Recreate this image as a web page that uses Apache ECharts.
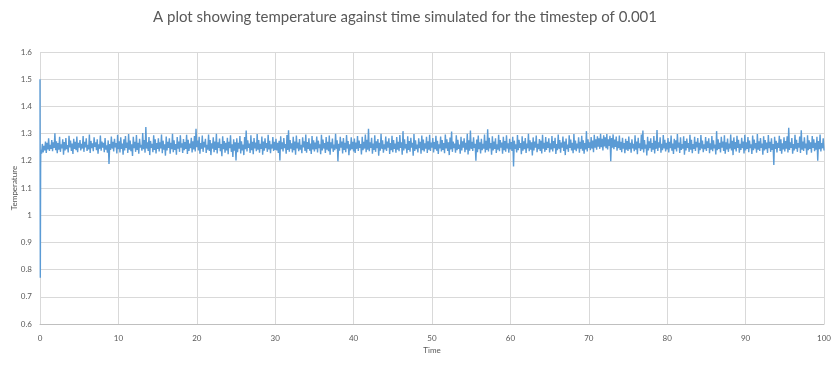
<!DOCTYPE html>
<html>
<head>
<meta charset="utf-8">
<script src="https://cdn.jsdelivr.net/npm/echarts@6/dist/echarts.min.js"></script>
<style>
html,body{margin:0;padding:0;background:#fff;}
#chart{width:835px;height:366px;}
</style>
</head>
<body>
<div id="chart"></div>
<script>
// Title and axis texts
const titleText = "A plot showing temperature against time simulated for the timestep of 0.001";
const xAxisName = "Time";
const yAxisName = "Temperature";

// Initial transient (time, temperature)
const transientTimes = [0, 0.04, 0.08];
const transientTemps = [1.5, 0.77, 1.18];

// Steady-state samples, every 0.1 time units starting at t = 0.1
const sampleStart = 0.1;
const sampleStep = 0.1;
const temps = [
1.241,1.226,1.262,1.231,1.255,1.238,1.271,1.229,1.266,1.242,1.283,1.236,1.259,1.244,1.276,1.235,1.268,1.247,1.301,1.239,
1.272,1.228,1.265,1.241,1.288,1.233,1.261,1.246,1.279,1.222,1.269,1.238,1.284,1.243,1.258,1.231,1.292,1.249,1.274,1.236,
1.263,1.225,1.281,1.244,1.270,1.239,1.289,1.232,1.266,1.248,

1.276,1.238,1.262,1.245,1.291,1.233,1.270,1.249,1.283,1.236,1.259,1.242,1.297,1.229,1.273,1.247,1.264,1.235,1.286,1.251,
1.268,1.239,1.279,1.226,1.261,1.244,1.293,1.237,1.271,1.248,1.266,1.232,1.284,1.241,1.257,1.230,1.275,1.188,1.262,1.240,
1.289,1.245,1.270,1.234,1.281,1.249,1.265,1.227,1.296,1.243,

1.272,1.231,1.286,1.244,1.263,1.222,1.279,1.238,1.291,1.247,1.267,1.229,1.298,1.241,1.274,1.235,1.261,1.218,1.288,1.246,
1.270,1.233,1.295,1.240,1.266,1.226,1.281,1.249,1.259,1.237,1.302,1.243,1.276,1.230,1.324,1.245,1.268,1.236,1.287,1.221,
1.273,1.248,1.262,1.232,1.294,1.240,1.279,1.227,1.265,1.244,

1.283,1.234,1.268,1.246,1.297,1.228,1.274,1.241,1.261,1.219,1.289,1.238,1.270,1.247,1.283,1.226,1.266,1.243,1.299,1.232,
1.275,1.240,1.262,1.222,1.287,1.245,1.271,1.233,1.294,1.248,1.264,1.229,1.280,1.239,1.269,1.244,1.296,1.225,1.277,1.236,
1.263,1.247,1.285,1.231,1.272,1.242,1.291,1.234,1.318,1.250,

1.274,1.238,1.288,1.226,1.265,1.244,1.293,1.233,1.270,1.249,1.281,1.229,1.259,1.241,1.297,1.236,1.276,1.221,1.264,1.245,
1.286,1.232,1.271,1.240,1.299,1.227,1.268,1.247,1.282,1.235,1.262,1.217,1.290,1.243,1.273,1.230,1.266,1.238,1.285,1.224,
1.270,1.246,1.294,1.233,1.261,1.214,1.279,1.237,1.268,1.201,

1.283,1.232,1.266,1.245,1.291,1.227,1.272,1.238,1.260,1.221,1.287,1.243,1.311,1.234,1.275,1.248,1.263,1.229,1.294,1.239,
1.270,1.224,1.284,1.246,1.267,1.235,1.298,1.241,1.276,1.230,1.262,1.244,1.289,1.222,1.271,1.237,1.283,1.247,1.265,1.233,
1.296,1.242,1.274,1.228,1.261,1.245,1.287,1.236,1.270,1.240,

1.281,1.238,1.266,1.229,1.274,1.201,1.290,1.243,1.268,1.234,1.284,1.247,1.262,1.226,1.295,1.240,1.312,1.233,1.276,1.245,
1.264,1.231,1.288,1.239,1.271,1.222,1.293,1.246,1.267,1.235,1.280,1.241,1.259,1.228,1.286,1.249,1.272,1.236,1.297,1.230,
1.269,1.244,1.283,1.237,1.263,1.225,1.291,1.242,1.275,1.234,

1.267,1.243,1.289,1.231,1.274,1.247,1.261,1.224,1.296,1.238,1.278,1.245,1.265,1.229,1.287,1.241,1.270,1.235,1.293,1.222,
1.268,1.246,1.282,1.233,1.260,1.239,1.299,1.244,1.275,1.198,1.263,1.237,1.288,1.248,1.271,1.227,1.284,1.240,1.266,1.232,
1.295,1.245,1.273,1.221,1.261,1.238,1.286,1.243,1.270,1.234,

1.282,1.229,1.267,1.244,1.291,1.236,1.274,1.248,1.262,1.223,1.288,1.239,1.270,1.245,1.297,1.232,1.277,1.241,1.318,1.235,
1.268,1.247,1.285,1.226,1.263,1.240,1.294,1.233,1.272,1.246,1.280,1.219,1.266,1.237,1.299,1.244,1.275,1.230,1.261,1.242,
1.289,1.236,1.271,1.248,1.283,1.225,1.265,1.239,1.292,1.232,

1.276,1.244,1.263,1.230,1.287,1.241,1.270,1.235,1.295,1.247,1.268,1.222,1.309,1.238,1.279,1.245,1.262,1.228,1.290,1.240,
1.273,1.233,1.285,1.248,1.266,1.219,1.298,1.236,1.275,1.243,1.260,1.231,1.283,1.246,1.270,1.226,1.293,1.239,1.278,1.234,
1.264,1.245,1.288,1.229,1.272,1.241,1.296,1.236,1.267,1.248,

1.284,1.231,1.269,1.243,1.292,1.237,1.274,1.225,1.261,1.246,1.289,1.234,1.276,1.240,1.265,1.228,1.297,1.245,1.279,1.236,
1.268,1.221,1.286,1.242,1.308,1.233,1.271,1.247,1.263,1.230,1.294,1.239,1.277,1.244,1.260,1.226,1.288,1.238,1.272,1.248,
1.283,1.232,1.266,1.241,1.299,1.223,1.275,1.237,1.311,1.244,

1.270,1.236,1.286,1.247,1.263,1.200,1.278,1.232,1.293,1.243,1.268,1.227,1.281,1.239,1.262,1.245,1.297,1.231,1.274,1.240,
1.316,1.234,1.285,1.246,1.265,1.222,1.290,1.238,1.271,1.244,1.283,1.229,1.261,1.241,1.296,1.235,1.276,1.248,1.267,1.226,
1.288,1.239,1.273,1.233,1.294,1.245,1.264,1.230,1.281,1.242,

1.269,1.236,1.288,1.179,1.274,1.244,1.261,1.231,1.295,1.239,1.277,1.247,1.265,1.224,1.290,1.237,1.272,1.243,1.284,1.229,
1.263,1.246,1.299,1.235,1.275,1.241,1.268,1.220,1.286,1.238,1.271,1.248,1.293,1.232,1.262,1.243,1.280,1.236,1.274,1.227,
1.296,1.245,1.266,1.233,1.287,1.240,1.270,1.247,1.283,1.231,

1.264,1.242,1.291,1.234,1.273,1.246,1.285,1.225,1.262,1.239,1.297,1.244,1.276,1.230,1.267,1.248,1.289,1.236,1.271,1.221,
1.282,1.243,1.260,1.233,1.294,1.247,1.278,1.238,1.266,1.228,1.298,1.241,1.274,1.235,1.263,1.246,1.286,1.230,1.270,1.244,
1.292,1.237,1.275,1.226,1.265,1.242,1.309,1.234,1.279,1.247,

1.268,1.239,1.287,1.245,1.274,1.232,1.296,1.248,1.279,1.241,1.290,1.252,1.283,1.244,1.299,1.250,1.281,1.238,1.294,1.253,
1.286,1.246,1.298,1.242,1.279,1.255,1.292,1.198,1.284,1.248,1.297,1.243,1.278,1.251,1.289,1.237,1.272,1.246,1.293,1.240,
1.270,1.232,1.285,1.245,1.265,1.228,1.281,1.241,1.273,1.236,

1.289,1.243,1.266,1.230,1.279,1.246,1.262,1.235,1.294,1.241,1.271,1.224,1.285,1.247,1.264,1.236,1.297,1.242,1.311,1.231,
1.276,1.245,1.260,1.220,1.288,1.238,1.272,1.246,1.283,1.233,1.265,1.241,1.291,1.227,1.274,1.244,1.313,1.236,1.268,1.248,
1.286,1.230,1.262,1.239,1.295,1.245,1.277,1.234,1.266,1.242,

1.284,1.231,1.270,1.246,1.293,1.237,1.263,1.225,1.281,1.243,1.275,1.234,1.298,1.248,1.267,1.229,1.286,1.240,1.261,1.245,
1.290,1.222,1.273,1.238,1.282,1.247,1.265,1.233,1.296,1.241,1.277,1.228,1.262,1.244,1.288,1.236,1.270,1.249,1.284,1.226,
1.266,1.239,1.295,1.245,1.274,1.232,1.261,1.243,1.287,1.236,

1.272,1.247,1.283,1.228,1.264,1.241,1.291,1.235,1.275,1.246,1.260,1.223,1.309,1.239,1.279,1.244,1.266,1.231,1.288,1.248,
1.271,1.236,1.294,1.226,1.268,1.242,1.282,1.233,1.263,1.245,1.297,1.238,1.274,1.221,1.286,1.243,1.269,1.234,1.292,1.247,
1.277,1.230,1.262,1.240,1.285,1.246,1.271,1.227,1.296,1.238,

1.268,1.244,1.287,1.232,1.274,1.247,1.261,1.225,1.293,1.239,1.278,1.245,1.265,1.230,1.298,1.241,1.272,1.236,1.284,1.248,
1.263,1.222,1.290,1.238,1.276,1.243,1.267,1.229,1.295,1.246,1.270,1.233,1.283,1.240,1.262,1.185,1.288,1.244,1.274,1.231,
1.266,1.247,1.292,1.236,1.279,1.226,1.264,1.242,1.286,1.234,

1.273,1.245,1.290,1.231,1.321,1.240,1.268,1.247,1.284,1.226,1.262,1.238,1.296,1.244,1.277,1.233,1.265,1.248,1.289,1.229,
1.312,1.241,1.271,1.236,1.286,1.246,1.263,1.222,1.294,1.239,1.275,1.244,1.268,1.230,1.291,1.247,1.279,1.235,1.266,1.241,
1.288,1.200,1.273,1.243,1.297,1.234,1.265,1.246,1.283,1.238
];

// Axis settings
const xMin = 0, xMax = 100, xInterval = 10;
const yMin = 0.6, yMax = 1.6, yInterval = 0.1;

const seriesData = [];
for (let i = 0; i < transientTimes.length; i++) seriesData.push([transientTimes[i], transientTemps[i]]);
for (let i = 0; i < temps.length; i++) seriesData.push([+(sampleStart + i * sampleStep).toFixed(2), temps[i]]);

const textColor = '#595959';
const gridColor = '#d9d9d9';
const font = 'Lato, "Open Sans", sans-serif';

const chart = echarts.init(document.getElementById('chart'), null, {renderer: 'canvas'});
chart.setOption({
  backgroundColor: '#ffffff',
  animation: false,
  title: {
    text: titleText,
    left: 400,
    top: 5,
    textAlign: 'center',
    textStyle: {color: textColor, fontSize: 15, fontWeight: 'normal', fontFamily: font}
  },
  grid: {left: 40, right: 11, top: 52, bottom: 42, containLabel: false, outerBoundsMode: 'none'},
  xAxis: {
    type: 'value',
    min: xMin, max: xMax, interval: xInterval,
    name: xAxisName,
    nameLocation: 'middle',
    nameGap: 21,
    nameTextStyle: {color: textColor, fontSize: 8, fontFamily: font},
    axisLine: {show: true, lineStyle: {color: '#bfbfbf', width: 1}},
    axisTick: {show: false},
    axisLabel: {color: textColor, fontSize: 8, fontFamily: font, margin: 10},
    splitLine: {show: true, lineStyle: {color: gridColor, width: 1}}
  },
  yAxis: {
    type: 'value',
    min: yMin, max: yMax, interval: yInterval,
    name: yAxisName,
    nameLocation: 'middle',
    nameGap: 22,
    nameMoveOverlap: false,
    nameRotate: 90,
    nameTextStyle: {color: textColor, fontSize: 8, fontFamily: font},
    axisLine: {show: false},
    axisTick: {show: false},
    axisLabel: {
      color: textColor, fontSize: 8, fontFamily: font, margin: 8,
      formatter: function (v) { return String(parseFloat(v.toFixed(2))); }
    },
    splitLine: {show: true, lineStyle: {color: gridColor, width: 1}}
  },
  series: [{
    type: 'line',
    data: seriesData,
    showSymbol: false,
    symbol: 'none',
    sampling: null,
    lineStyle: {color: '#5b9bd5', width: 1.4},
    itemStyle: {color: '#5b9bd5'}
  }]
});
</script>
</body>
</html>
